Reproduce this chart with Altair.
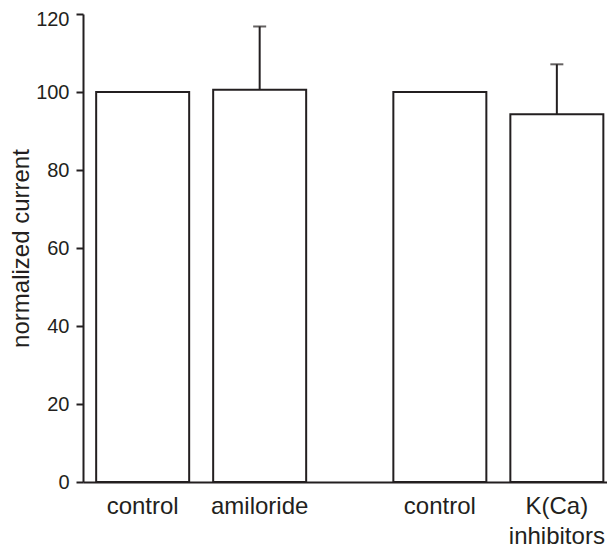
import altair as alt
import pandas as pd

# ---- data ----
conditions = ["control", "amiloride", "control", "K(Ca)\ninhibitors"]
groups = [0, 0, 1, 1]
means = [100.0, 100.6, 100.0, 94.3]
errors = [0.0, 16.2, 0.0, 12.8]
y_ticks = [0, 10, 20, 30, 40, 50, 60, 70, 80, 90, 100, 110, 120]

INK = "#231f20"
FONT = "Liberation Sans"
GROUP_GAP = 0.54

df = pd.DataFrame({"label": conditions, "group": groups, "mean": means, "err": errors})
df["pos"] = [i + g * GROUP_GAP for i, g in enumerate(groups)]
df["top"] = df["mean"] + df["err"]

PLOT_W = 524
x_enc = alt.X(
    "pos:Q",
    scale=alt.Scale(domain=[-0.51, -0.51 + PLOT_W / 117.0], nice=False, zero=False, padding=0),
    axis=alt.Axis(labels=False, ticks=False, grid=False, title=None,
                  domainColor=INK, domainWidth=2),
)
y_scale = alt.Scale(domain=[0, 120], nice=False, padding=0)

base = alt.Chart(df)

bars = base.mark_bar(size=93, fill="white", stroke=INK, strokeWidth=2, orient="vertical").encode(
    x=x_enc,
    y=alt.Y(
        "mean:Q",
        stack=None,
        scale=y_scale,
        axis=alt.Axis(
            values=y_ticks,
            labelExpr="datum.value % 20 === 0 ? datum.label : ''",
            tickSize={"condition": {"test": "datum.value % 20 === 0", "value": 7}, "value": 4},
            labelOffset={"condition": {"test": "datum.value === 120", "value": 5}, "value": 0},
            tickWidth=2,
            tickColor=INK,
            domainColor=INK,
            domainWidth=2,
            grid=False,
            labelFont=FONT,
            labelFontSize=20,
            labelColor=INK,
            labelPadding=7,
            title="normalized current",
            titleFont=FONT,
            titleFontSize=24,
            titleFontWeight="normal",
            titleColor=INK,
            titleX=-55,
            titleBaseline="alphabetic",
        ),
    ),
)

err_df = base.transform_filter("datum.err > 0")

stems = err_df.mark_rule(color=INK, strokeWidth=2).encode(
    x=alt.X("pos:Q"),
    y=alt.Y("mean:Q"),
    y2="top:Q",
)

caps = err_df.mark_tick(color=INK, orient="horizontal", size=13, thickness=2).encode(
    x=alt.X("pos:Q"),
    y=alt.Y("top:Q"),
)

labels = base.mark_text(
    font=FONT, fontSize=24, color=INK, align="center", baseline="alphabetic",
    dy=32, lineBreak="\n", lineHeight=30,
).encode(
    x=alt.X("pos:Q"),
    y=alt.datum(0),
    text="label:N",
)

chart = (
    alt.layer(bars, stems, caps, labels)
    .properties(
        width=PLOT_W,
        height=468,
        autosize=alt.AutoSizeParams(type="none"),
        padding={"left": 75, "top": 6, "right": 0, "bottom": 68},
        background="white",
    )
    .configure_view(stroke=None)
)

chart.save("out.html", embed_options={"renderer": "svg", "actions": False})
